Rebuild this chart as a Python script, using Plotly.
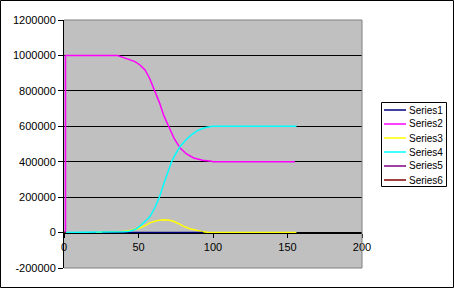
import plotly.graph_objects as go

# ---- data ----
s1_x = [25.5, 93.3]
s1_y = [0, 0]

s2_x = [1, 1, 20, 36, 41, 47.6, 51, 54.4, 57.5, 61, 64, 67, 70, 74, 78, 82, 87, 93, 99, 100, 155]
s2_y = [0, 1000000, 1000000, 1000000, 985000, 965000, 946000, 918000, 870000, 796000, 735000,
        660000, 603000, 530000, 477000, 445000, 421000, 408000, 402000, 400000, 400000]

s3_x = [21.5, 30, 38.7, 45, 51, 55, 57.7, 62, 66.7, 70, 73.4, 77, 80, 84, 86.8, 90, 93.5, 97, 112, 156]
s3_y = [0, 500, 4000, 13000, 26000, 42000, 55000, 67000, 73000, 71000, 64000, 50000, 36000,
        23000, 17000, 10000, 4000, 1000, 0, 0]

s4_x = [1, 20, 30, 40, 44, 48, 51, 54, 57.7, 61, 64, 67, 70, 72.3, 75, 78, 82, 86, 90, 95, 100, 156]
s4_y = [0, 0, 1000, 4000, 7000, 18000, 36000, 58000, 90000, 140000, 200000, 275000, 350000,
        402000, 445000, 486000, 525000, 555000, 578000, 593000, 600000, 600000]

s5_x = [0, 1]
s5_y = [0, 0]

s6_x = [0, 1]
s6_y = [0, 0]

series_names = ["Series1", "Series2", "Series3", "Series4", "Series5", "Series6"]
y_tickvals = [-200000, 0, 200000, 400000, 600000, 800000, 1000000, 1200000]
y_ticktext = ["-200000", "0", "200000", "400000", "600000", "800000", "1000000", "1200000"]
x_tickvals = [0, 50, 100, 150, 200]
x_ticktext = ["0", "50", "100", "150", "200"]

colors = ["#000080", "#FF00FF", "#FFFF00", "#00FFFF", "#800080", "#800000"]
data = [(s1_x, s1_y), (s2_x, s2_y), (s3_x, s3_y), (s4_x, s4_y), (s5_x, s5_y), (s6_x, s6_y)]

fig = go.Figure()
# draw order: yellow under navy (as in reference)
draw_order = [2, 0, 1, 3, 4, 5]
for i in draw_order:
    xs, ys = data[i]
    fig.add_trace(go.Scatter(
        x=xs, y=ys, mode="lines", name=series_names[i],
        line=dict(color=colors[i], width=1.5),
        showlegend=False,
    ))

W, H = 454, 288
L, R, T, B = 64, 92, 20, 20
pw, ph = W - L - R, H - T - B


def px(xp):
    return (xp - L) / pw


def py(yp):
    return (H - B - yp) / ph


shapes = [
    # plot-area grey border (top, right, bottom)
    dict(type="line", xref="paper", yref="paper", x0=0, x1=1, y0=1, y1=1,
         line=dict(color="#808080", width=1), layer="above"),
    dict(type="line", xref="paper", yref="paper", x0=1, x1=1, y0=0, y1=1,
         line=dict(color="#808080", width=1), layer="above"),
    dict(type="line", xref="paper", yref="paper", x0=0, x1=1, y0=0, y1=0,
         line=dict(color="#808080", width=1), layer="above"),
    # outer chart border
    dict(type="rect", xref="paper", yref="paper",
         x0=px(0.5), x1=px(W - 0.5), y0=py(H - 0.5), y1=py(0.5),
         line=dict(color="black", width=1), fillcolor="rgba(0,0,0,0)", layer="above"),
    # legend box
    dict(type="rect", xref="paper", yref="paper",
         x0=px(381.5), x1=px(446.5), y0=py(186.5), y1=py(102.5),
         line=dict(color="black", width=1), fillcolor="white", layer="above"),
]
annotations = []
row_y = [110, 124, 138, 152, 166, 180]
for i, name in enumerate(series_names):
    shapes.append(dict(type="line", xref="paper", yref="paper",
                       x0=px(384), x1=px(406), y0=py(row_y[i]), y1=py(row_y[i]),
                       line=dict(color=colors[i], width=1.5), layer="above"))
    annotations.append(dict(text=name, xref="paper", yref="paper",
                            x=px(407), y=py(row_y[i]), xanchor="left", yanchor="middle",
                            showarrow=False, font=dict(size=10, color="black")))

fig.update_layout(
    width=W, height=H,
    margin=dict(l=L, r=R, t=T, b=B, pad=0),
    paper_bgcolor="white",
    plot_bgcolor="#C0C0C0",
    font=dict(family="Liberation Sans, Arial, sans-serif", size=11, color="black"),
    showlegend=False,
    xaxis=dict(
        range=[0, 200], tickvals=x_tickvals, ticktext=x_ticktext,
        showgrid=False, zeroline=False,
        showline=True, linecolor="black", linewidth=1,
        ticks="outside", ticklen=4, tickcolor="black",
        anchor="free", position=200000 / 1400000,
    ),
    yaxis=dict(
        range=[-200000, 1200000], tickvals=y_tickvals, ticktext=y_ticktext,
        showgrid=True, gridcolor="black", gridwidth=1,
        zeroline=True, zerolinecolor="black", zerolinewidth=1,
        showline=True, linecolor="black", linewidth=1,
        ticks="outside", ticklen=5, tickcolor="black",
    ),
    shapes=shapes,
    annotations=annotations,
)

fig.write_html("out.html")
